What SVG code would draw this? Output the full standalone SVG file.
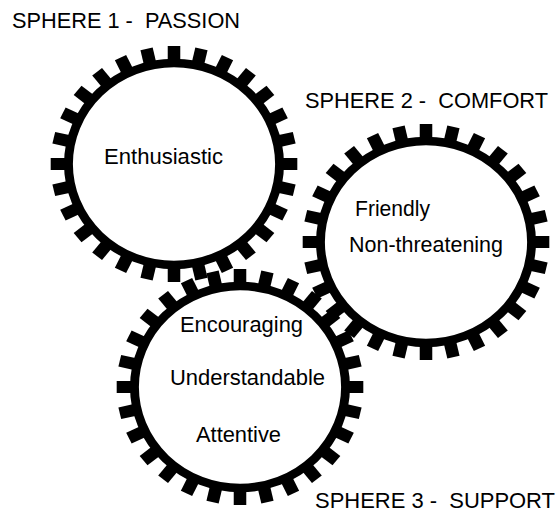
<svg xmlns="http://www.w3.org/2000/svg" xmlns:xlink="http://www.w3.org/1999/xlink" width="558" height="513" viewBox="0 0 558 513">
  <style>
    .ring { fill: none; stroke: #000; stroke-width: 8.5; }
    .tooth { fill: #000; }
    .label { font-family: "Liberation Sans", Arial, sans-serif; font-size: 22px; fill: #000; }
  </style>
  <defs>
    <!-- 28 radial teeth around a gear of base radius 101 -->
    <g id="teeth" class="tooth">
      <rect x="-6" y="-118" width="12" height="15" transform="rotate(0)"/>
      <rect x="-6" y="-118" width="12" height="15" transform="rotate(12.857)"/>
      <rect x="-6" y="-118" width="12" height="15" transform="rotate(25.714)"/>
      <rect x="-6" y="-118" width="12" height="15" transform="rotate(38.571)"/>
      <rect x="-6" y="-118" width="12" height="15" transform="rotate(51.429)"/>
      <rect x="-6" y="-118" width="12" height="15" transform="rotate(64.286)"/>
      <rect x="-6" y="-118" width="12" height="15" transform="rotate(77.143)"/>
      <rect x="-6" y="-118" width="12" height="15" transform="rotate(90)"/>
      <rect x="-6" y="-118" width="12" height="15" transform="rotate(102.857)"/>
      <rect x="-6" y="-118" width="12" height="15" transform="rotate(115.714)"/>
      <rect x="-6" y="-118" width="12" height="15" transform="rotate(128.571)"/>
      <rect x="-6" y="-118" width="12" height="15" transform="rotate(141.429)"/>
      <rect x="-6" y="-118" width="12" height="15" transform="rotate(154.286)"/>
      <rect x="-6" y="-118" width="12" height="15" transform="rotate(167.143)"/>
      <rect x="-6" y="-118" width="12" height="15" transform="rotate(180)"/>
      <rect x="-6" y="-118" width="12" height="15" transform="rotate(192.857)"/>
      <rect x="-6" y="-118" width="12" height="15" transform="rotate(205.714)"/>
      <rect x="-6" y="-118" width="12" height="15" transform="rotate(218.571)"/>
      <rect x="-6" y="-118" width="12" height="15" transform="rotate(231.429)"/>
      <rect x="-6" y="-118" width="12" height="15" transform="rotate(244.286)"/>
      <rect x="-6" y="-118" width="12" height="15" transform="rotate(257.143)"/>
      <rect x="-6" y="-118" width="12" height="15" transform="rotate(270)"/>
      <rect x="-6" y="-118" width="12" height="15" transform="rotate(282.857)"/>
      <rect x="-6" y="-118" width="12" height="15" transform="rotate(295.714)"/>
      <rect x="-6" y="-118" width="12" height="15" transform="rotate(308.571)"/>
      <rect x="-6" y="-118" width="12" height="15" transform="rotate(321.429)"/>
      <rect x="-6" y="-118" width="12" height="15" transform="rotate(334.286)"/>
      <rect x="-6" y="-118" width="12" height="15" transform="rotate(347.143)"/>
    </g>
  </defs>

  <!-- Sphere 1: Passion -->
  <g id="sphere1">
    <g transform="translate(174,164) scale(1.045,1)">
      <circle class="ring" r="101"/>
      <use href="#teeth" xlink:href="#teeth"/>
    </g>
    <text class="label" x="12" y="28" textLength="228" lengthAdjust="spacingAndGlyphs" xml:space="preserve">SPHERE 1 -  PASSION</text>
    <text class="label" x="104" y="164" textLength="119" lengthAdjust="spacingAndGlyphs">Enthusiastic</text>
  </g>

  <!-- Sphere 2: Comfort -->
  <g id="sphere2">
    <g transform="translate(426,242) scale(1.045,1)">
      <circle class="ring" r="101"/>
      <use href="#teeth" xlink:href="#teeth"/>
    </g>
    <text class="label" x="305" y="108" textLength="243" lengthAdjust="spacingAndGlyphs" xml:space="preserve">SPHERE 2 -  COMFORT</text>
    <text class="label" x="355" y="216" textLength="75" lengthAdjust="spacingAndGlyphs">Friendly</text>
    <text class="label" x="349" y="252" textLength="154" lengthAdjust="spacingAndGlyphs">Non-threatening</text>
  </g>

  <!-- Sphere 3: Support -->
  <g id="sphere3">
    <g transform="translate(240,387) scale(1.045,1)">
      <circle class="ring" r="101"/>
      <use href="#teeth" xlink:href="#teeth"/>
    </g>
    <text class="label" x="315" y="508" textLength="240" lengthAdjust="spacingAndGlyphs" xml:space="preserve">SPHERE 3 -  SUPPORT</text>
    <text class="label" x="180" y="332" textLength="123" lengthAdjust="spacingAndGlyphs">Encouraging</text>
    <text class="label" x="170" y="385" textLength="155" lengthAdjust="spacingAndGlyphs">Understandable</text>
    <text class="label" x="196" y="442" textLength="85" lengthAdjust="spacingAndGlyphs">Attentive</text>
  </g>
</svg>
